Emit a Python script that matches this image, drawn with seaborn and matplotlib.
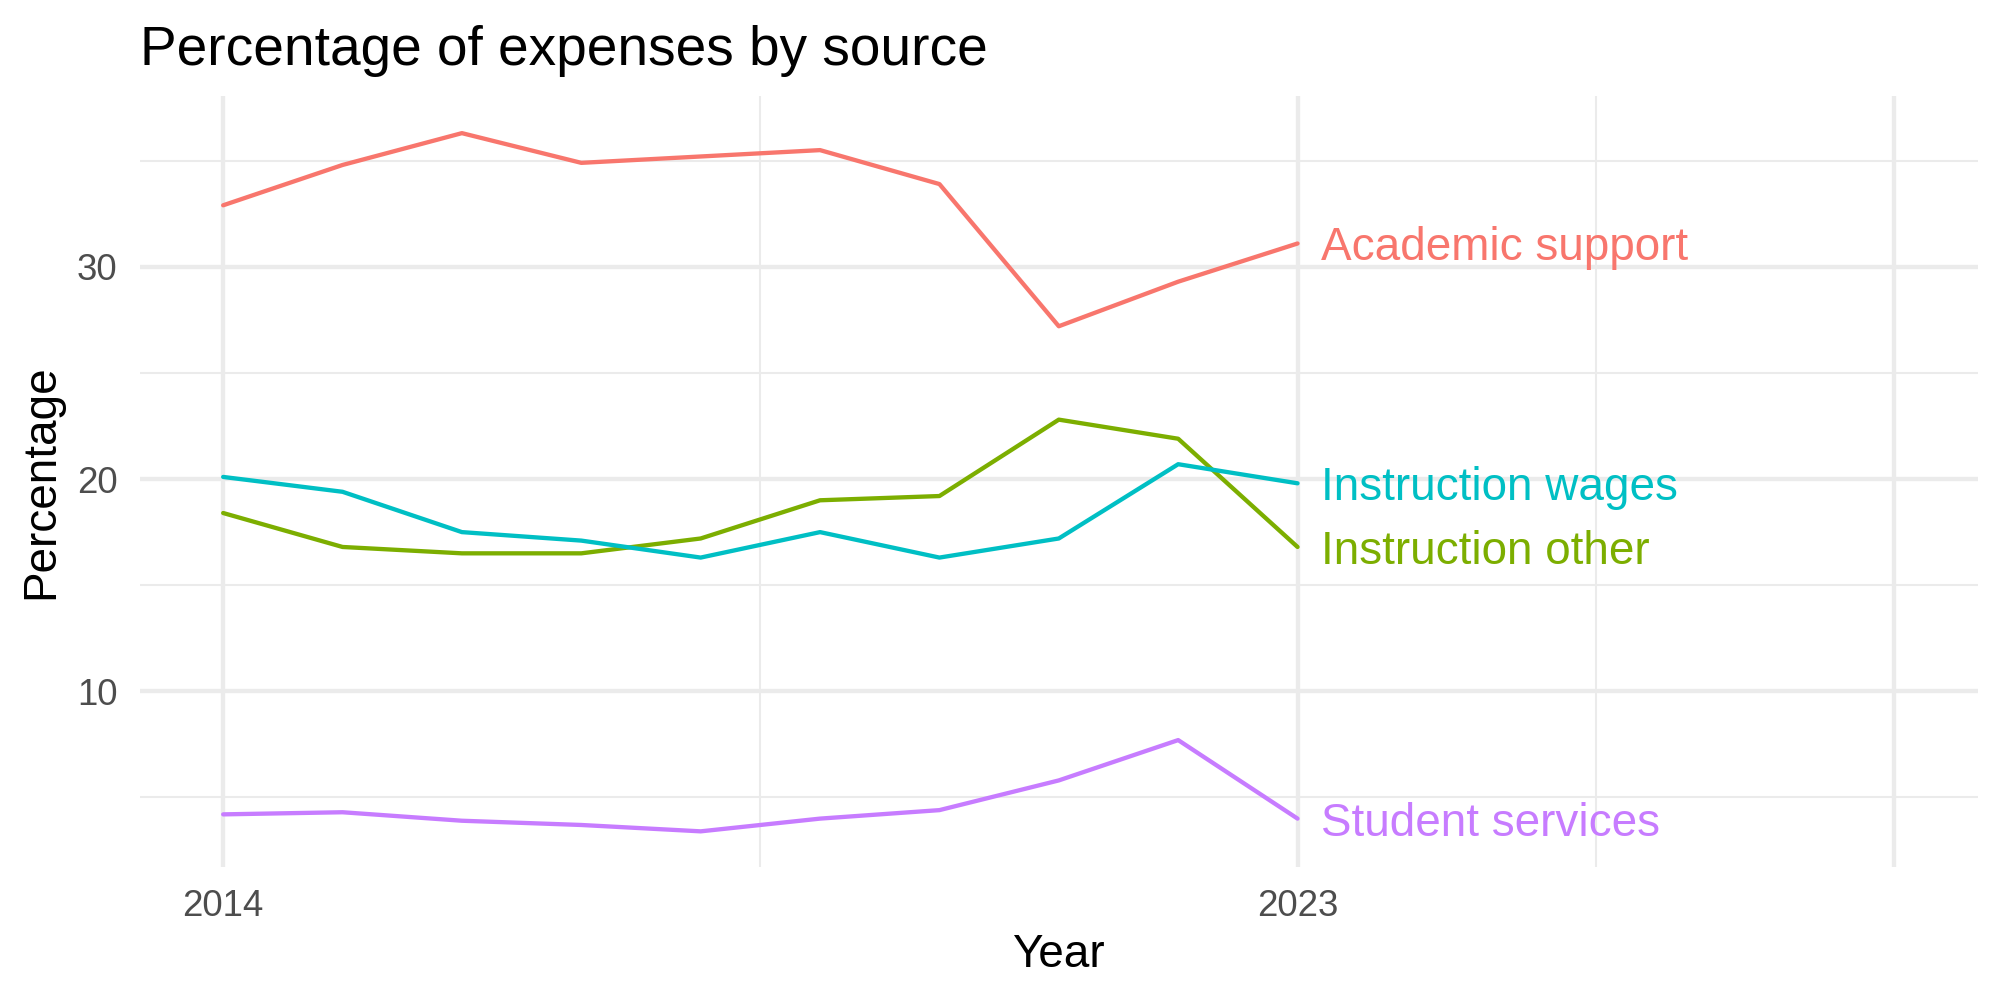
import pandas as pd
import seaborn as sns
import matplotlib.pyplot as plt

# values
years = list(range(2014, 2024))
academic_support = [32.9, 34.8, 36.3, 34.9, 35.2, 35.5, 33.9, 27.2, 29.3, 31.1]
instruction_other = [18.4, 16.8, 16.5, 16.5, 17.2, 19.0, 19.2, 22.8, 21.9, 16.8]
instruction_wages = [20.1, 19.4, 17.5, 17.1, 16.3, 17.5, 16.3, 17.2, 20.7, 19.8]
student_services = [4.2, 4.3, 3.9, 3.7, 3.4, 4.0, 4.4, 5.8, 7.7, 4.0]

sources = ['Academic support', 'Instruction other', 'Instruction wages', 'Student services']
colors = ['#F8766D', '#7CAE00', '#00BFC4', '#C77CFF']

x_major = [2014, 2023, 2028]
x_labels = ['2014', '2023', '']
x_minor = [2018.5, 2025.5]
y_major = [10, 20, 30]
y_minor = [5, 15, 25, 35]

df = pd.DataFrame({
    'Year': years * 4,
    'Percentage': academic_support + instruction_other + instruction_wages + student_services,
    'source': [s for s in sources for _ in years],
})

sns.set_theme(style='white')
plt.rcParams['font.family'] = ['Liberation Sans', 'DejaVu Sans']

fig, ax = plt.subplots(figsize=(10, 5), dpi=200)
fig.subplots_adjust(left=0.0698, right=0.989, top=0.904, bottom=0.133)

palette = dict(zip(sources, colors))
sns.lineplot(data=df, x='Year', y='Percentage', hue='source', palette=palette,
             linewidth=1.55, legend=False, ax=ax)

# direct labels at the end of each line
last = df[df['Year'] == years[-1]]
for _, row in last.iterrows():
    ax.text(row['Year'] + 0.2, row['Percentage'], row['source'],
            color=palette[row['source']], fontsize=16.5, ha='left', va='center_baseline')

ax.set_xlim(2013.3, 2028.7)
ax.set_ylim(1.72, 38.05)
ax.set_xticks(x_major)
ax.set_xticklabels(x_labels)
ax.set_xticks(x_minor, minor=True)
ax.set_yticks(y_major)
ax.set_yticks(y_minor, minor=True)

ax.grid(which='major', color='#EBEBEB', linewidth=1.55)
ax.grid(which='minor', color='#EBEBEB', linewidth=0.75)
ax.set_axisbelow(True)
for sp in ax.spines.values():
    sp.set_visible(False)
ax.tick_params(which='both', length=0, labelsize=13.2, labelcolor='#4D4D4D', pad=8)

ax.set_xlabel('Year', fontsize=16.5, labelpad=3, color='black')
ax.set_ylabel('Percentage', fontsize=16.5, labelpad=5, color='black')
ax.set_title('Percentage of expenses by source', loc='left', fontsize=19.8, pad=11, color='black')

fig.savefig('out.png', dpi=200, facecolor='white')
